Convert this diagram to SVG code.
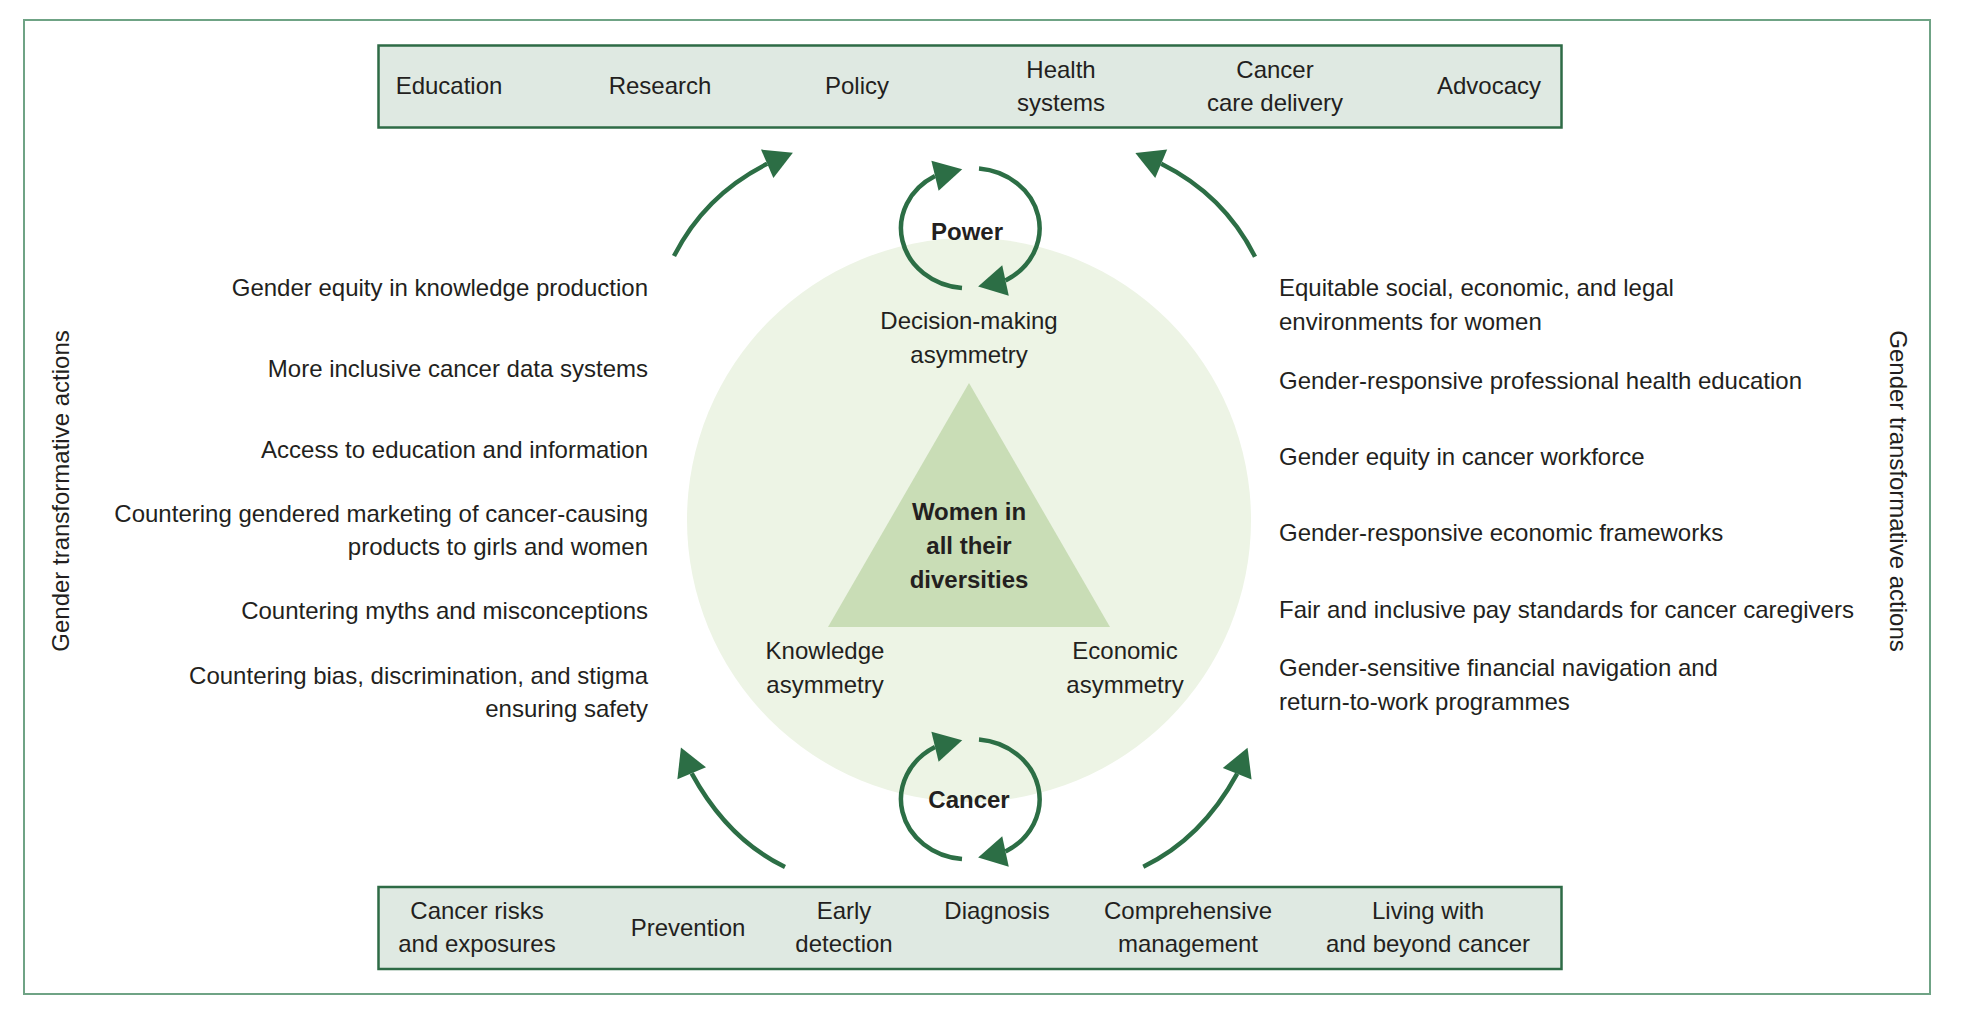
<svg xmlns="http://www.w3.org/2000/svg" width="1978" height="1014" viewBox="0 0 1978 1014">
<defs>
<style>
text{font-family:"Liberation Sans",Arial,sans-serif;font-size:24px;fill:#231f20}
.b{font-weight:bold}
.m{text-anchor:middle}
.r{text-anchor:end}
.box{fill:#dfe9e2;stroke:#2e6b46;stroke-width:2.5}
.ln{fill:none;stroke:#2c6e45;stroke-width:4.5}
.ah{fill:#2c6e45}
</style>
<path id="ah" d="M0,-15.5 L28,0 L0,15.5 Z"/>
</defs>
<rect width="1978" height="1014" fill="#ffffff"/>
<rect x="24" y="20" width="1906" height="974" fill="none" stroke="#6fa385" stroke-width="2"/>

<g id="center-circle">
<circle cx="969" cy="520" r="282" fill="#edf4e5"/>
</g>
<g id="triangle">
<polygon points="969,383 828,627 1110,627" fill="#c9ddb6"/>
<text class="m b" x="969" y="520">Women in</text>
<text class="m b" x="969" y="554">all their</text>
<text class="m b" x="969" y="588">diversities</text>
</g>
<g id="decision">
<text class="m" x="969" y="329">Decision-making</text>
<text class="m" x="969" y="363">asymmetry</text>
</g>
<g id="knowledge">
<text class="m" x="825" y="659">Knowledge</text>
<text class="m" x="825" y="693">asymmetry</text>
</g>
<g id="economic">
<text class="m" x="1125" y="659">Economic</text>
<text class="m" x="1125" y="693">asymmetry</text>
</g>

<g id="top-box">
<rect class="box" x="378.5" y="45.5" width="1183" height="82"/>
<text class="m" x="449" y="94">Education</text>
<text class="m" x="660" y="94">Research</text>
<text class="m" x="857" y="94">Policy</text>
<text class="m" x="1061" y="78">Health</text>
<text class="m" x="1061" y="111">systems</text>
<text class="m" x="1275" y="78">Cancer</text>
<text class="m" x="1275" y="111">care delivery</text>
<text class="m" x="1489" y="94">Advocacy</text>
</g>

<g id="bottom-box">
<rect class="box" x="378.5" y="887" width="1183" height="82"/>
<text class="m" x="477" y="919">Cancer risks</text>
<text class="m" x="477" y="952">and exposures</text>
<text class="m" x="688" y="936">Prevention</text>
<text class="m" x="844" y="919">Early</text>
<text class="m" x="844" y="952">detection</text>
<text class="m" x="997" y="919">Diagnosis</text>
<text class="m" x="1188" y="919">Comprehensive</text>
<text class="m" x="1188" y="952">management</text>
<text class="m" x="1428" y="919">Living with</text>
<text class="m" x="1428" y="952">and beyond cancer</text>
</g>

<g id="power">
<text class="m b" x="967" y="240">Power</text>
</g>
<g id="cancer">
<text class="m b" x="969" y="808">Cancer</text>
</g>

<g id="left-actions">
<text class="r" x="648" y="296">Gender equity in knowledge production</text>
<text class="r" x="648" y="377">More inclusive cancer data systems</text>
<text class="r" x="648" y="458">Access to education and information</text>
<text class="r" x="648" y="522">Countering gendered marketing of cancer-causing</text>
<text class="r" x="648" y="555">products to girls and women</text>
<text class="r" x="648" y="619">Countering myths and misconceptions</text>
<text class="r" x="648" y="684">Countering bias, discrimination, and stigma</text>
<text class="r" x="648" y="717">ensuring safety</text>
</g>

<g id="right-actions">
<text x="1279" y="296">Equitable social, economic, and legal</text>
<text x="1279" y="330">environments for women</text>
<text x="1279" y="389">Gender-responsive professional health education</text>
<text x="1279" y="465">Gender equity in cancer workforce</text>
<text x="1279" y="541">Gender-responsive economic frameworks</text>
<text x="1279" y="618">Fair and inclusive pay standards for cancer caregivers</text>
<text x="1279" y="676">Gender-sensitive financial navigation and</text>
<text x="1279" y="710">return-to-work programmes</text>
</g>

<g id="left-label">
<text class="m" transform="translate(69,491) rotate(-90)">Gender transformative actions</text>
</g>
<g id="right-label">
<text class="m" transform="translate(1890,491) rotate(90)">Gender transformative actions</text>
</g>

<g id="connectors">
<path class="ln" d="M962,288 A67,60 0 0 1 935,176"/>
<path class="ln" d="M979,168.5 A67,60 0 0 1 1005.5,280.5"/>
<use href="#ah" class="ah" transform="translate(935,175.7) rotate(-13.5)"/>
<use href="#ah" class="ah" transform="translate(1005.5,280.5) rotate(167.8)"/>

<path class="ln" d="M962,859 A67,60 0 0 1 935,747"/>
<path class="ln" d="M979,739.5 A67,60 0 0 1 1005.5,851.5"/>
<use href="#ah" class="ah" transform="translate(935,746.7) rotate(-13.5)"/>
<use href="#ah" class="ah" transform="translate(1005.5,851.5) rotate(167.8)"/>

<path class="ln" d="M674,256 Q705,195 767.2,163.8"/>
<use href="#ah" class="ah" transform="translate(767.2,163.8) rotate(-23.5)"/>
<path class="ln" d="M1255,256.7 Q1224,195 1161.2,163.8"/>
<use href="#ah" class="ah" transform="translate(1161.2,163.8) rotate(-157.4)"/>
<path class="ln" d="M785,867 Q727.5,839 691.7,773.3"/>
<use href="#ah" class="ah" transform="translate(691.7,773.3) rotate(-112.6)"/>
<path class="ln" d="M1143.3,866.7 Q1201.5,839 1237.2,773.7"/>
<use href="#ah" class="ah" transform="translate(1237.2,773.7) rotate(-68.3)"/>
</g>
</svg>
